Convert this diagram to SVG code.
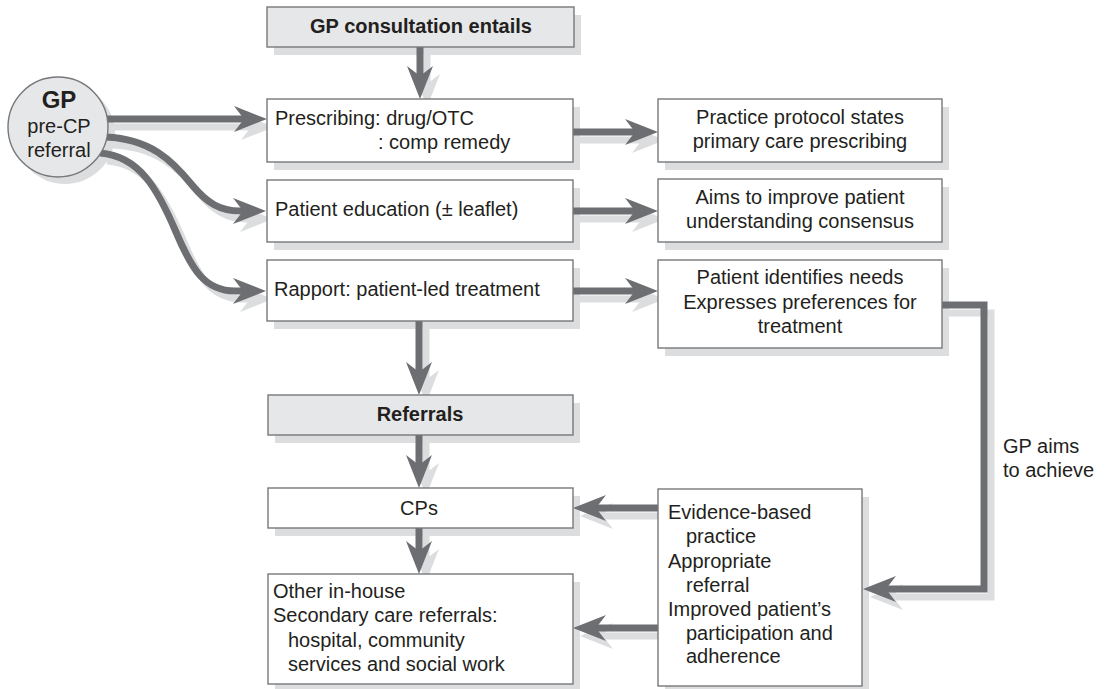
<svg xmlns="http://www.w3.org/2000/svg" xmlns:xlink="http://www.w3.org/1999/xlink" width="1107" height="689" viewBox="0 0 1107 689">
  <style>
    text { font-family: "Liberation Sans", Arial, sans-serif; font-size: 20px; fill: #231f20; }
    .bold { font-weight: bold; }
    .mid { text-anchor: middle; }
    .box { fill: #ffffff; stroke: #77787b; stroke-width: 1.4; }
    .head { fill: #e6e7e8; stroke: #77787b; stroke-width: 1.4; }
    .shade { fill: #dcddde; stroke: none; }
    .arrow { fill: none; stroke: #6d6e71; stroke-width: 7; stroke-linejoin: miter; marker-end: url(#tip); }
    .arrow-shade { fill: none; stroke: #dcddde; stroke-width: 7; stroke-linejoin: miter; marker-end: url(#tipShade); }
  </style>
  <defs>
    <marker id="tip" viewBox="0 0 33 26" refX="12" refY="13" markerWidth="33" markerHeight="26" markerUnits="userSpaceOnUse" orient="auto">
      <path d="M33,13 L0,0 L10,13 L0,26 Z" fill="#6d6e71"/>
    </marker>
    <marker id="tipShade" viewBox="0 0 33 26" refX="12" refY="13" markerWidth="33" markerHeight="26" markerUnits="userSpaceOnUse" orient="auto">
      <path d="M33,13 L0,0 L10,13 L0,26 Z" fill="#dcddde"/>
    </marker>
    <!-- connector geometry, drawn once as a soft offset copy and once on top -->
    <path id="c-gp1" d="M106,119 L246,119"/>
    <path id="c-gp2" d="M106,137 C150,139 172,160 192,185 C207,203 220,211 240,211 L245,211"/>
    <path id="c-gp3" d="M100,153 C140,156 158,190 176,232 C192,270 205,291 235,291 L245,291"/>
    <path id="c-top" d="M420,47 L420,78"/>
    <path id="c-r1" d="M573,132 L637,132"/>
    <path id="c-r2" d="M573,211 L637,211"/>
    <path id="c-r3" d="M573,291 L637,291"/>
    <path id="c-down1" d="M419,321 L419,374"/>
    <path id="c-down2" d="M419,435 L419,467"/>
    <path id="c-down3" d="M419,528 L419,553"/>
    <path id="c-loop" d="M942,305 L984,305 L984,589 L884,589"/>
    <path id="c-cps" d="M658,508 L594,508"/>
    <path id="c-other" d="M658,628 L594,628"/>
  </defs>

  <rect width="1107" height="689" fill="#ffffff"/>

  <!-- drop shadows of the nodes -->
  <g id="shadows">
    <circle class="shade" cx="65" cy="134" r="50"/>
    <rect class="shade" x="274" y="15" width="307" height="40"/>
    <rect class="shade" x="274" y="107" width="306" height="63"/>
    <rect class="shade" x="274" y="188" width="306" height="62"/>
    <rect class="shade" x="274" y="268" width="306" height="61"/>
    <rect class="shade" x="275" y="403" width="305" height="40"/>
    <rect class="shade" x="275" y="496" width="305" height="40"/>
    <rect class="shade" x="275" y="582" width="305" height="107"/>
    <rect class="shade" x="665" y="107" width="284" height="63"/>
    <rect class="shade" x="665" y="187" width="284" height="63"/>
    <rect class="shade" x="665" y="268" width="284" height="88"/>
    <rect class="shade" x="665" y="497" width="204" height="192"/>
  </g>

  <g id="connectors">
    <g transform="translate(7,8)">
      <use xlink:href="#c-gp1" class="arrow-shade"/>
      <use xlink:href="#c-gp2" class="arrow-shade"/>
      <use xlink:href="#c-gp3" class="arrow-shade"/>
      <use xlink:href="#c-top" class="arrow-shade"/>
      <use xlink:href="#c-r1" class="arrow-shade"/>
      <use xlink:href="#c-r2" class="arrow-shade"/>
      <use xlink:href="#c-r3" class="arrow-shade"/>
      <use xlink:href="#c-down1" class="arrow-shade"/>
      <use xlink:href="#c-down2" class="arrow-shade"/>
      <use xlink:href="#c-down3" class="arrow-shade"/>
      <use xlink:href="#c-loop" class="arrow-shade"/>
      <use xlink:href="#c-cps" class="arrow-shade"/>
      <use xlink:href="#c-other" class="arrow-shade"/>
    </g>
    <use xlink:href="#c-gp1" class="arrow"/>
    <use xlink:href="#c-gp2" class="arrow"/>
    <use xlink:href="#c-gp3" class="arrow"/>
    <use xlink:href="#c-top" class="arrow"/>
    <use xlink:href="#c-r1" class="arrow"/>
    <use xlink:href="#c-r2" class="arrow"/>
    <use xlink:href="#c-r3" class="arrow"/>
    <use xlink:href="#c-down1" class="arrow"/>
    <use xlink:href="#c-down2" class="arrow"/>
    <use xlink:href="#c-down3" class="arrow"/>
    <use xlink:href="#c-loop" class="arrow"/>
    <use xlink:href="#c-cps" class="arrow"/>
    <use xlink:href="#c-other" class="arrow"/>
    <text x="1003" y="453">GP aims</text>
    <text x="1003" y="477">to achieve</text>
  </g>

  <g id="gp">
    <circle class="head" cx="58" cy="127" r="50"/>
    <text class="bold mid" x="59" y="108" style="font-size:24px">GP</text>
    <text class="mid" x="59" y="133">pre-CP</text>
    <text class="mid" x="59" y="157">referral</text>
  </g>

  <g id="consultation">
    <rect class="head" x="267" y="7" width="307" height="40"/>
    <text class="bold mid" x="421" y="33">GP consultation entails</text>
  </g>

  <g id="prescribing">
    <rect class="box" x="267" y="99" width="306" height="63"/>
    <text x="275" y="125">Prescribing: drug/OTC</text>
    <text x="378" y="149">: comp remedy</text>
  </g>

  <g id="education">
    <rect class="box" x="267" y="180" width="306" height="62"/>
    <text x="275" y="216">Patient education (± leaflet)</text>
  </g>

  <g id="rapport">
    <rect class="box" x="267" y="260" width="306" height="61"/>
    <text x="274" y="296">Rapport: patient-led treatment</text>
  </g>

  <g id="protocol">
    <rect class="box" x="658" y="99" width="284" height="63"/>
    <text class="mid" x="800" y="124">Practice protocol states</text>
    <text class="mid" x="800" y="148">primary care prescribing</text>
  </g>

  <g id="understanding">
    <rect class="box" x="658" y="179" width="284" height="63"/>
    <text class="mid" x="800" y="204">Aims to improve patient</text>
    <text class="mid" x="800" y="228">understanding consensus</text>
  </g>

  <g id="needs">
    <rect class="box" x="658" y="260" width="284" height="88"/>
    <text class="mid" x="800" y="284">Patient identifies needs</text>
    <text class="mid" x="800" y="309">Expresses preferences for</text>
    <text class="mid" x="800" y="333">treatment</text>
  </g>

  <g id="referrals">
    <rect class="head" x="268" y="395" width="305" height="40"/>
    <text class="bold mid" x="420" y="421">Referrals</text>
  </g>

  <g id="cps">
    <rect class="box" x="268" y="488" width="305" height="40"/>
    <text class="mid" x="419" y="515">CPs</text>
  </g>

  <g id="other">
    <rect class="box" x="268" y="574" width="305" height="110"/>
    <text x="273" y="598">Other in-house</text>
    <text x="273" y="622">Secondary care referrals:</text>
    <text x="288" y="647">hospital, community</text>
    <text x="288" y="671">services and social work</text>
  </g>

  <g id="aims">
    <rect class="box" x="658" y="489" width="204" height="197"/>
    <text x="668" y="519">Evidence-based</text>
    <text x="686" y="543">practice</text>
    <text x="668" y="568">Appropriate</text>
    <text x="686" y="592">referral</text>
    <text x="668" y="616">Improved patient’s</text>
    <text x="686" y="640">participation and</text>
    <text x="686" y="663">adherence</text>
  </g>
</svg>
